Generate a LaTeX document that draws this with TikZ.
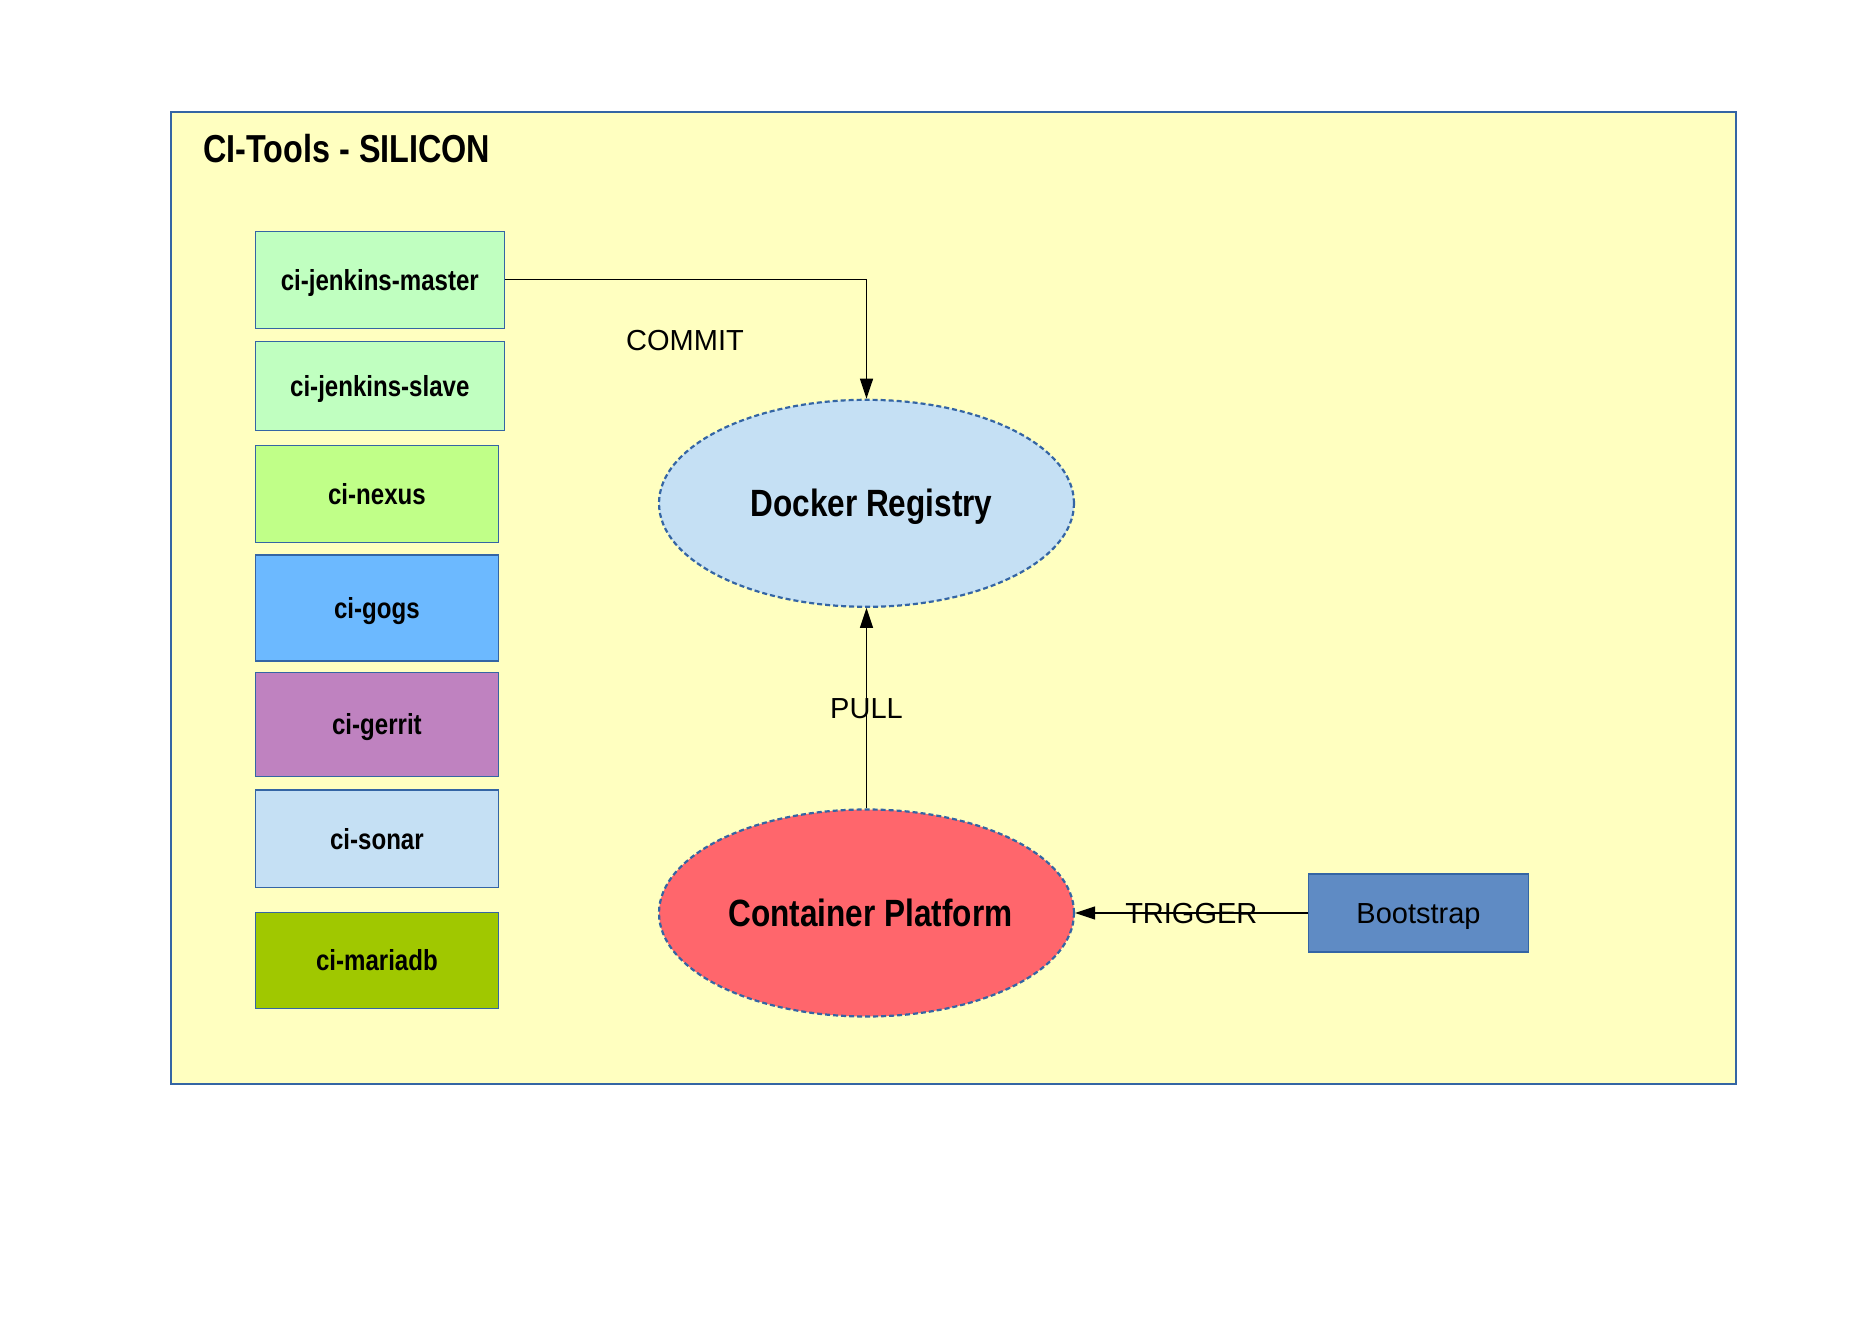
\documentclass[tikz,border=0pt]{standalone}
\usepackage{fontspec}
\setmainfont{Liberation Sans}
\newfontfamily\condfont[FakeStretch=0.83]{Liberation Sans}
\usetikzlibrary{shapes.geometric,arrows.meta}
\definecolor{frameblue}{HTML}{3465A4}
\definecolor{bgyellow}{HTML}{FFFFC0}
\definecolor{jenkinsgreen}{HTML}{C0FFC0}
\definecolor{nexusgreen}{HTML}{C0FF88}
\definecolor{gogsblue}{HTML}{6CB9FF}
\definecolor{gerritpurple}{HTML}{BF82C0}
\definecolor{sonarblue}{HTML}{C5E0F4}
\definecolor{mariagreen}{HTML}{A0C800}
\definecolor{registryblue}{HTML}{C5E0F4}
\definecolor{platformred}{HTML}{FF666C}
\definecolor{bootblue}{HTML}{5F8BC4}
\begin{document}
\begin{tikzpicture}[x=1pt,y=-1pt,
  toolbox/.style={draw=frameblue,line width=1.5pt,inner sep=0pt,
    font=\condfont\bfseries\fontsize{29}{34}\selectfont,
    text height=20.8pt,text depth=0pt},
  cloud/.style={ellipse,draw=frameblue,line width=2.2pt,dash pattern=on 5pt off 3pt,
    inner sep=0pt,font=\condfont\bfseries\fontsize{38}{44}\selectfont,
    text height=27.2pt,text depth=0pt},
  plainbox/.style={draw=frameblue,line width=1.5pt,inner sep=0pt,
    font=\fontsize{29}{34}\selectfont,text height=20.8pt,text depth=0pt},
  conn/.style={draw=black,line width=1.3pt,-{Triangle[length=20pt,width=13pt]}},
  lbl/.style={font=\fontsize{29}{34}\selectfont,text height=20.8pt,text depth=0pt,inner sep=0pt}
]
\useasboundingbox (0,0) rectangle (1869,1321);
\fill[white] (0,0) rectangle (1869,1321);
\draw[fill=bgyellow,draw=frameblue,line width=2pt] (171,112) rectangle (1736,1084);
\node[anchor=base west,inner sep=0pt,font=\condfont\bfseries\fontsize{39}{46}\selectfont] (title) at (203,163) {CI-Tools - SILICON};

\node[toolbox,fill=jenkinsgreen,minimum width=249,minimum height=97] (master) at (379.8,279.8) {ci-jenkins-master};
\node[toolbox,fill=jenkinsgreen,minimum width=249,minimum height=89] (slave) at (379.8,385.8) {ci-jenkins-slave};
\node[toolbox,fill=nexusgreen,minimum width=243.2,minimum height=97.2] (nexus) at (376.9,493.9) {ci-nexus};
\node[toolbox,fill=gogsblue,minimum width=243.2,minimum height=105.7] (gogs) at (376.9,608) {ci-gogs};
\node[toolbox,fill=gerritpurple,minimum width=243.2,minimum height=104.1] (gerrit) at (376.9,724.3) {ci-gerrit};
\node[toolbox,fill=sonarblue,minimum width=243.2,minimum height=97.2] (sonar) at (376.9,838.7) {ci-sonar};
\node[toolbox,fill=mariagreen,minimum width=243.2,minimum height=96.1] (mariadb) at (376.9,960.3) {ci-mariadb};

\node[cloud,fill=registryblue,minimum width=415,minimum height=207] (registry) at (866.5,503.3) {\hspace*{10pt}Docker Registry};
\node[cloud,fill=platformred,minimum width=415,minimum height=207] (platform) at (866.5,913) {\hspace*{8pt}Container Platform};
\node[plainbox,fill=bootblue,minimum width=220.4,minimum height=78.3] (boot) at (1418.5,913) {Bootstrap};

\draw[conn] (master.east) -| (registry.north);
\node[lbl] (commitlbl) at (685,340) {COMMIT};
\draw[conn] (platform.north) -- node[lbl] (pulllbl) {PULL} (registry.south);
\draw[conn] (boot.west) -- node[lbl] (triggerlbl) {TRIGGER} (platform.east);
\end{tikzpicture}
\end{document}
